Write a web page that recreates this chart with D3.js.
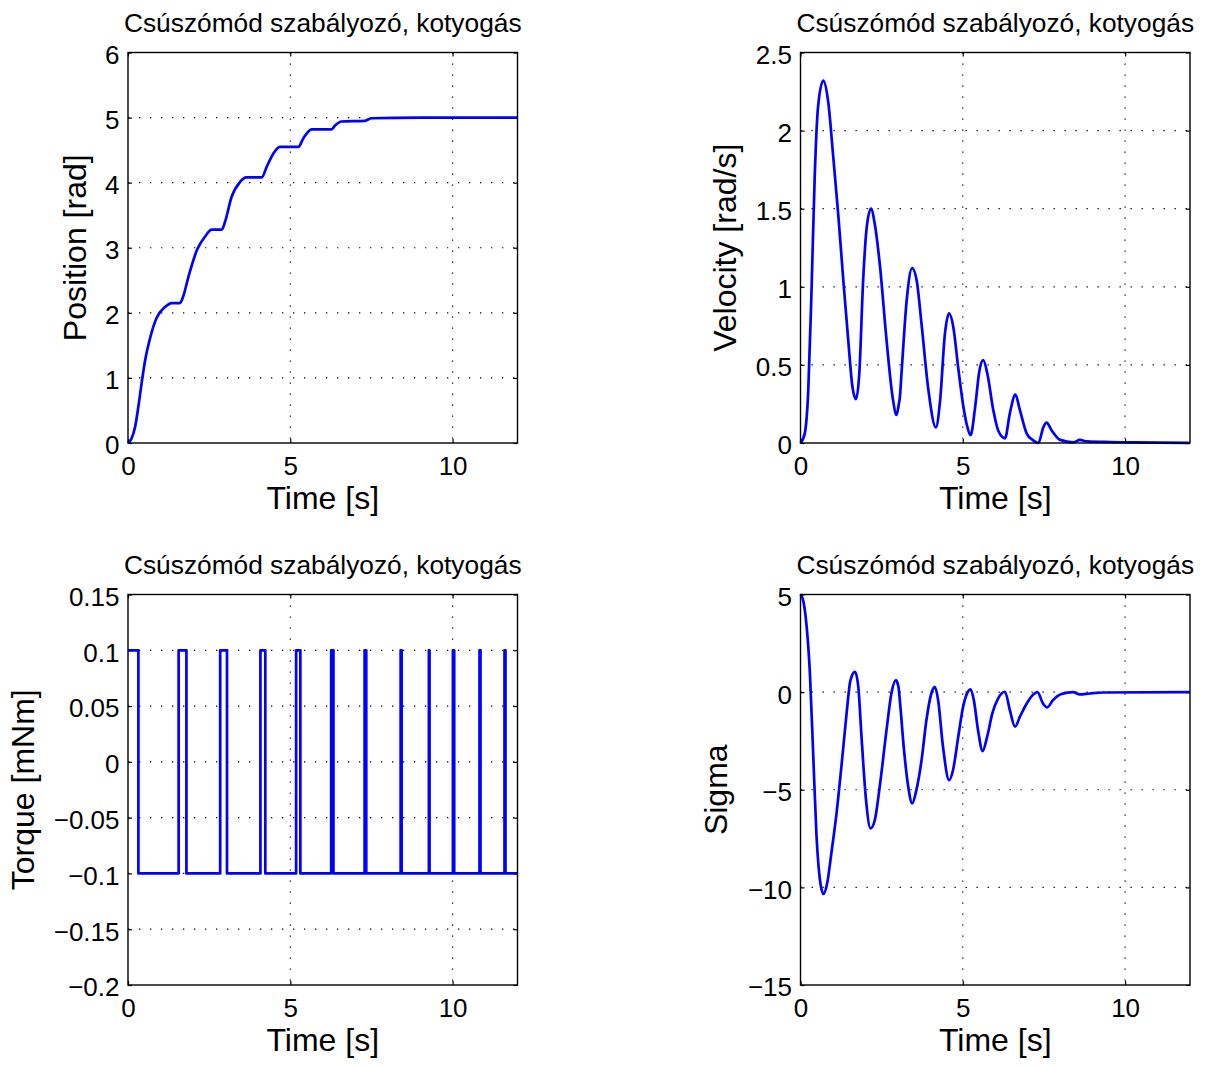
<!DOCTYPE html>
<html>
<head>
<meta charset="utf-8">
<script src="https://cdn.jsdelivr.net/npm/d3@7"></script>
<style>
html,body{margin:0;padding:0;background:#fff;}
svg text{font-family:"Liberation Sans",Arial,Helvetica,sans-serif;fill:#000;}
</style>
</head>
<body>
<svg id="chart" width="1207" height="1068"></svg>
<script>
// ---------- data ----------
const titleText = "Csúszómód szabályozó, kotyogás";
const xLabelText = "Time [s]";
const xTicks = [0, 5, 10];

// Position [rad]
const posTime  = [0, 0.11, 0.22, 0.32, 0.42, 0.52, 0.68, 0.88, 1.14, 1.35, 1.60, 1.70, 1.86, 2.12, 2.37, 2.58, 2.89, 2.99, 3.19, 3.45, 3.65, 4.12, 4.27, 4.48, 4.68, 5.25, 5.40, 5.66, 6.27, 6.38, 6.58, 7.30, 7.50, 9.0, 12];
const posValue = [0, 0.07, 0.25, 0.56, 0.92, 1.25, 1.61, 1.92, 2.09, 2.15, 2.15, 2.25, 2.55, 2.96, 3.17, 3.28, 3.28, 3.40, 3.78, 4.01, 4.08, 4.08, 4.24, 4.45, 4.55, 4.55, 4.68, 4.82, 4.82, 4.88, 4.94, 4.95, 4.99, 5.0, 5.0];
const posTicks = [0, 1, 2, 3, 4, 5, 6];

// Velocity [rad/s]
const velTime  = [0, 0.13, 0.24, 0.34, 0.44, 0.54, 0.70, 0.85, 1.01, 1.16, 1.32, 1.47, 1.60, 1.71, 1.81, 1.93, 2.03, 2.17, 2.29, 2.45, 2.65, 2.84, 2.96, 3.03, 3.06, 3.11, 3.27, 3.44, 3.58, 3.73, 3.94, 4.17, 4.30, 4.45, 4.58, 4.71, 4.86, 5.02, 5.12, 5.24, 5.38, 5.51, 5.63, 5.76, 5.94, 6.09, 6.30, 6.45, 6.62, 6.76, 6.97, 7.15, 7.33, 7.48, 7.58, 7.74, 8.0, 8.41, 8.61, 8.82, 9.54, 10.26, 12];
const velValue = [0, 0.06, 0.34, 0.98, 1.72, 2.15, 2.32, 2.19, 1.83, 1.47, 1.04, 0.66, 0.36, 0.28, 0.44, 1.04, 1.36, 1.50, 1.40, 1.13, 0.66, 0.29, 0.18, 0.25, 0.29, 0.44, 0.91, 1.12, 1.04, 0.76, 0.34, 0.10, 0.27, 0.70, 0.83, 0.74, 0.48, 0.23, 0.12, 0.05, 0.23, 0.46, 0.53, 0.44, 0.21, 0.08, 0.03, 0.19, 0.31, 0.21, 0.06, 0.02, 0.0, 0.10, 0.13, 0.08, 0.02, 0.004, 0.02, 0.01, 0.006, 0.004, 0.0];
const velTicks = [0, 0.5, 1, 1.5, 2, 2.5];

// Torque [mNm] (switching instants, value held until next instant)
const torqueTime  = [0, 0.32, 1.56, 1.80, 2.84, 3.05, 4.08, 4.23, 5.18, 5.31, 6.26, 6.33, 7.29, 7.34, 8.40, 8.43, 9.27, 9.29, 10.01, 10.05, 10.83, 10.86, 11.60, 11.63, 12];
const torqueValue = [0.1, -0.1, 0.1, -0.1, 0.1, -0.1, 0.1, -0.1, 0.1, -0.1, 0.1, -0.1, 0.1, -0.1, 0.1, -0.1, 0.1, -0.1, 0.1, -0.1, 0.1, -0.1, 0.1, -0.1, -0.1];
const torqueTicks = [-0.2, -0.15, -0.1, -0.05, 0, 0.05, 0.1, 0.15];

// Sigma
const sigTime  = [0, 0.08, 0.18, 0.29, 0.39, 0.49, 0.60, 0.71, 0.82, 0.95, 1.11, 1.26, 1.42, 1.54, 1.68, 1.78, 1.88, 2.01, 2.16, 2.29, 2.44, 2.65, 2.80, 2.94, 3.02, 3.06, 3.18, 3.32, 3.44, 3.57, 3.73, 3.88, 4.03, 4.14, 4.24, 4.39, 4.58, 4.70, 4.86, 5.01, 5.11, 5.24, 5.34, 5.47, 5.61, 5.75, 5.91, 6.09, 6.30, 6.45, 6.61, 6.76, 6.97, 7.17, 7.30, 7.47, 7.60, 7.78, 8.04, 8.40, 8.60, 8.91, 9.32, 12];
const sigValue = [5.0, 4.71, 3.52, 0.96, -3.14, -7.24, -9.62, -10.34, -9.80, -8.26, -6.21, -3.82, -1.09, 0.61, 1.04, 0.27, -2.29, -5.36, -6.98, -6.55, -4.85, -1.95, -0.07, 0.61, 0.25, -0.41, -2.80, -4.85, -5.70, -5.02, -3.48, -1.43, -0.07, 0.27, -0.41, -2.80, -4.51, -3.99, -2.29, -0.75, -0.15, 0.14, -0.41, -1.95, -3.02, -2.29, -1.09, -0.32, 0.02, -0.92, -1.77, -1.26, -0.58, -0.12, 0.0, -0.58, -0.78, -0.41, -0.10, 0.0, -0.12, -0.07, -0.02, 0.0];
const sigTicks = [-15, -10, -5, 0, 5];

// ---------- drawing ----------
const svg = d3.select("#chart");
const PW = 389.5, PH = 390.5;
const fmt = d3.format("");

const panels = [
  {left:128, top:52.5, time:posTime, value:posValue, yDomain:[0,6], yTicks:posTicks, yLabel:"Position [rad]", yLabelGap:42, curve:d3.curveMonotoneX},
  {left:800.5, top:52.5, time:velTime, value:velValue, yDomain:[0,2.5], yTicks:velTicks, yLabel:"Velocity [rad/s]", yLabelGap:65, curve:d3.curveMonotoneX},
  {left:128, top:594.5, time:torqueTime, value:torqueValue, yDomain:[-0.2,0.15], yTicks:torqueTicks, yLabel:"Torque [mNm]", yLabelGap:94, curve:d3.curveStepAfter},
  {left:800.5, top:594.5, time:sigTime, value:sigValue, yDomain:[-15,5], yTicks:sigTicks, yLabel:"Sigma", yLabelGap:73.5, curve:d3.curveMonotoneX}
];

panels.forEach(p => {
  const g = svg.append("g").attr("transform", `translate(${p.left},${p.top})`);
  const x = d3.scaleLinear().domain([0,12]).range([0,PW]);
  const y = d3.scaleLinear().domain(p.yDomain).range([PH,0]);

  // grid
  const eps = 1e-9;
  xTicks.filter(t => t > eps && t < 12 - eps).forEach(t => {
    g.append("line").attr("x1", x(t)).attr("x2", x(t)).attr("y1", 0).attr("y2", PH)
      .attr("stroke", "#000").attr("stroke-width", 1.2).attr("stroke-dasharray", "1.3,9.7");
  });
  p.yTicks.filter(t => t > p.yDomain[0] + eps && t < p.yDomain[1] - eps).forEach(t => {
    g.append("line").attr("x1", 0).attr("x2", PW).attr("y1", y(t)).attr("y2", y(t))
      .attr("stroke", "#000").attr("stroke-width", 1.2).attr("stroke-dasharray", "1.3,9.7");
  });

  // axes via d3 (inward ticks)
  const xAxisB = d3.axisBottom(x).tickValues(xTicks).tickSizeInner(-4).tickSizeOuter(0).tickFormat(fmt);
  const yAxisL = d3.axisLeft(y).tickValues(p.yTicks).tickSizeInner(-4).tickSizeOuter(0).tickFormat(fmt);
  const xAxisT = d3.axisTop(x).tickValues(xTicks).tickSizeInner(-4).tickSizeOuter(0).tickFormat("");
  const yAxisR = d3.axisRight(y).tickValues(p.yTicks).tickSizeInner(-4).tickSizeOuter(0).tickFormat("");

  const styleAxis = sel => {
    sel.select(".domain").remove();
    sel.selectAll(".tick line").attr("stroke", "#000").attr("stroke-width", 1.2);
    sel.selectAll(".tick text").attr("font-size", 26).attr("font-family", '"Liberation Sans",Arial,sans-serif').attr("fill", "#000");
  };
  g.append("g").attr("transform", `translate(0,${PH})`).call(xAxisB).call(styleAxis)
    .selectAll(".tick text").attr("dy", "0.72em").attr("y", 13);
  g.append("g").call(yAxisL).call(styleAxis)
    .selectAll(".tick text").attr("dy", "0.42em").attr("x", -8.5);
  g.append("g").call(xAxisT).call(styleAxis);
  g.append("g").attr("transform", `translate(${PW},0)`).call(yAxisR).call(styleAxis);

  // data line
  const pts = p.time.map((t, i) => [t, p.value[i]]);
  const line = d3.line().x(d => x(d[0])).y(d => y(d[1])).curve(p.curve);
  g.append("path").datum(pts).attr("d", line)
    .attr("fill", "none").attr("stroke", "#0000ff").attr("stroke-width", 2.7)
    .attr("stroke-linejoin", "round");

  // frame
  g.append("rect").attr("x", 0).attr("y", 0).attr("width", PW).attr("height", PH)
    .attr("fill", "none").attr("stroke", "#000").attr("stroke-width", 1.4);

  // title
  g.append("text").attr("x", PW/2).attr("y", -21).attr("text-anchor", "middle")
    .attr("font-size", 26.3).text(titleText);
  // x label
  g.append("text").attr("x", PW/2).attr("y", PH + 66).attr("text-anchor", "middle")
    .attr("font-size", 32).text(xLabelText);
  // y label
  g.append("text").attr("transform", `translate(${-p.yLabelGap},${PH/2}) rotate(-90)`)
    .attr("text-anchor", "middle").attr("font-size", 32).text(p.yLabel);
});
</script>
</body>
</html>
